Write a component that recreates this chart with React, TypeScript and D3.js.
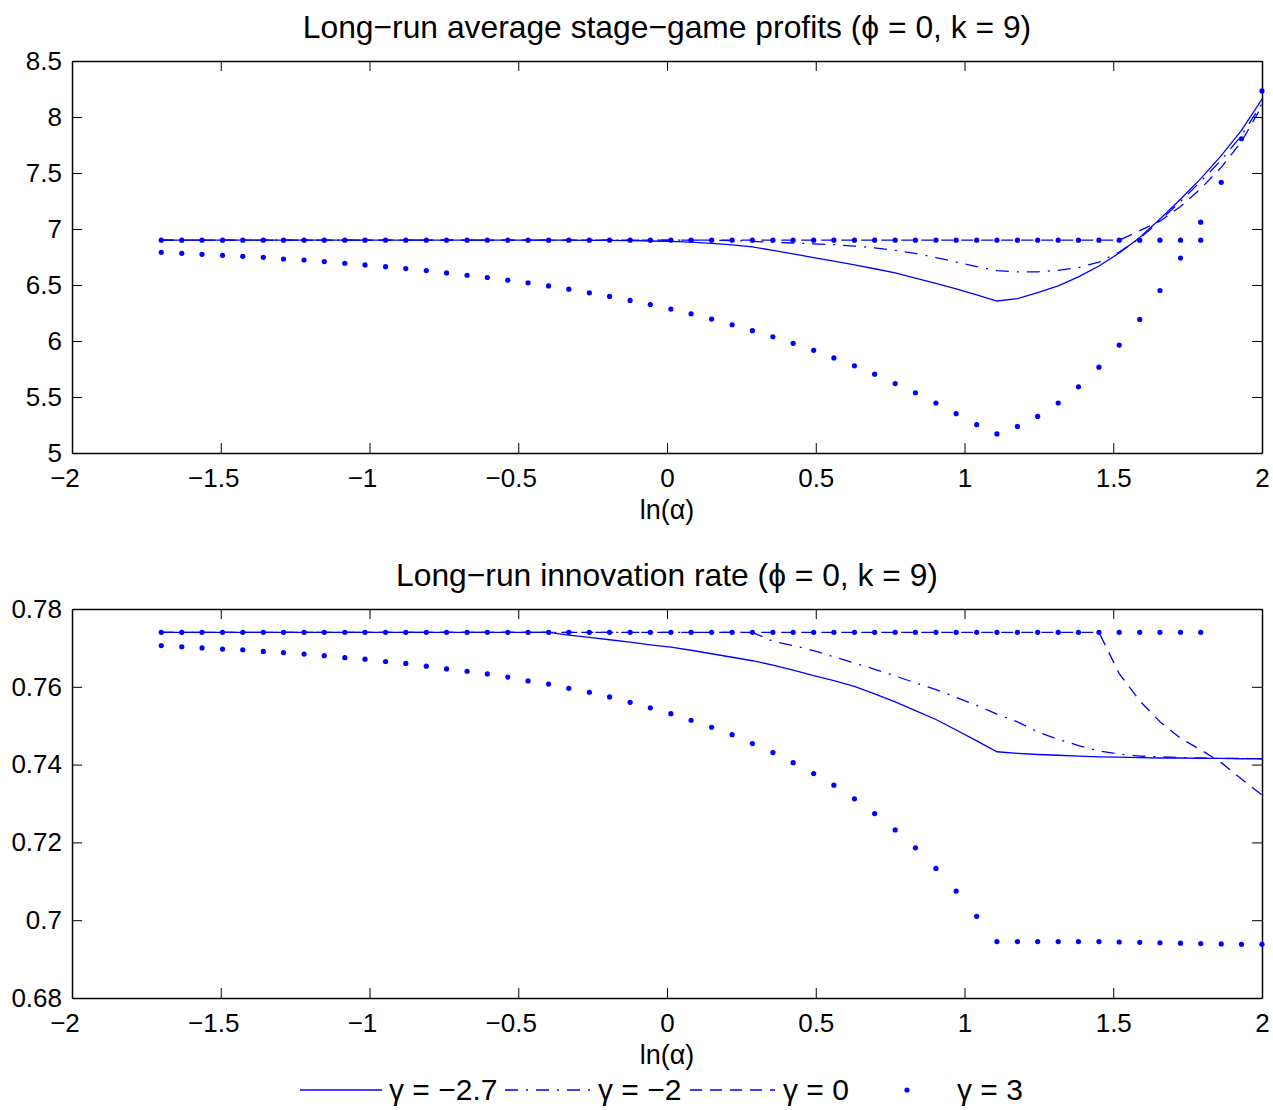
import { useEffect, useRef } from "react";
import * as d3 from "d3";

// ln(alpha) grid shared by all series
const lnAlpha = [
  -1.700, -1.631, -1.563, -1.494, -1.426, -1.357, -1.289, -1.220, -1.152, -1.083,
  -1.015, -0.946, -0.878, -0.809, -0.741, -0.672, -0.604, -0.535, -0.467, -0.398,
  -0.330, -0.261, -0.193, -0.124, -0.056, 0.013, 0.081, 0.150, 0.219, 0.287,
  0.356, 0.424, 0.493, 0.561, 0.630, 0.698, 0.767, 0.835, 0.904, 0.972,
  1.041, 1.109, 1.178, 1.246, 1.315, 1.383, 1.452, 1.520, 1.589, 1.657,
  1.726, 1.794, 1.863, 1.931, 2.000,
];

// top panel: long-run average stage-game profits
const profitG27 = [
  6.9, 6.9, 6.9, 6.9, 6.9, 6.9, 6.9, 6.9, 6.9, 6.9,
  6.9, 6.9, 6.9, 6.9, 6.9, 6.9, 6.9, 6.9, 6.9, 6.9,
  6.9, 6.899, 6.898, 6.896, 6.893, 6.889, 6.882, 6.872, 6.858, 6.840,
  6.810, 6.778, 6.745, 6.713, 6.680, 6.645, 6.608, 6.562, 6.515, 6.466,
  6.412, 6.357, 6.378, 6.433, 6.492, 6.572, 6.670, 6.785, 6.925, 7.090,
  7.265, 7.450, 7.655, 7.880, 8.160,
];
const profitG2 = [
  6.9, 6.9, 6.9, 6.9, 6.9, 6.9, 6.9, 6.9, 6.9, 6.9,
  6.9, 6.9, 6.9, 6.9, 6.9, 6.9, 6.9, 6.9, 6.9, 6.9,
  6.9, 6.9, 6.9, 6.9, 6.9, 6.9, 6.9, 6.9, 6.897, 6.890,
  6.882, 6.875, 6.868, 6.860, 6.848, 6.832, 6.810, 6.782, 6.745, 6.705,
  6.665, 6.628, 6.617, 6.618, 6.630, 6.655, 6.705, 6.795, 6.915, 7.075,
  7.245, 7.425, 7.615, 7.835, 8.120,
];
const profitG0 = [
  6.9, 6.9, 6.9, 6.9, 6.9, 6.9, 6.9, 6.9, 6.9, 6.9,
  6.9, 6.9, 6.9, 6.9, 6.9, 6.9, 6.9, 6.9, 6.9, 6.9,
  6.9, 6.9, 6.9, 6.9, 6.9, 6.9, 6.9, 6.9, 6.9, 6.9,
  6.9, 6.9, 6.9, 6.9, 6.9, 6.9, 6.9, 6.9, 6.9, 6.9,
  6.9, 6.9, 6.9, 6.9, 6.9, 6.9, 6.9, 6.9, 6.985, 7.070,
  7.200, 7.360, 7.550, 7.780, 8.100,
];
const profitG3 = [
  6.792, 6.783, 6.774, 6.765, 6.756, 6.747, 6.732, 6.723, 6.709, 6.694,
  6.679, 6.664, 6.647, 6.629, 6.608, 6.587, 6.567, 6.543, 6.519, 6.492,
  6.463, 6.430, 6.398, 6.362, 6.326, 6.285, 6.243, 6.196, 6.145, 6.092,
  6.038, 5.979, 5.917, 5.849, 5.778, 5.704, 5.620, 5.538, 5.446, 5.351,
  5.253, 5.170, 5.237, 5.327, 5.446, 5.591, 5.766, 5.964, 6.193, 6.451,
  6.741, 7.061, 7.417, 7.806, 8.233,
];
// second dotted row (first 52 grid points)
const profitDotRow = [
  6.9, 6.9, 6.9, 6.9, 6.9, 6.9, 6.9, 6.9, 6.9, 6.9,
  6.9, 6.9, 6.9, 6.9, 6.9, 6.9, 6.9, 6.9, 6.9, 6.9,
  6.9, 6.9, 6.9, 6.9, 6.9, 6.9, 6.9, 6.9, 6.9, 6.9,
  6.9, 6.9, 6.9, 6.9, 6.9, 6.9, 6.9, 6.9, 6.9, 6.9,
  6.9, 6.9, 6.9, 6.9, 6.9, 6.9, 6.9, 6.9, 6.9, 6.9,
  6.9, 6.9,
];

// bottom panel: long-run innovation rate
const innovG27 = [
  0.774, 0.774, 0.774, 0.774, 0.774, 0.774, 0.774, 0.774, 0.774, 0.774,
  0.774, 0.774, 0.774, 0.774, 0.774, 0.774, 0.774, 0.774, 0.774, 0.774,
  0.7733, 0.7727, 0.7721, 0.7715, 0.7708, 0.7702, 0.7694, 0.7685, 0.7676, 0.7667,
  0.7656, 0.7643, 0.7629, 0.7616, 0.7601, 0.7582, 0.7561, 0.7539, 0.7516, 0.7489,
  0.7461, 0.7433, 0.7429, 0.7426, 0.7424, 0.7422, 0.7420, 0.7419, 0.7418, 0.7417,
  0.7417, 0.7416, 0.7416, 0.7415, 0.7415,
];
const innovG2 = [
  0.774, 0.774, 0.774, 0.774, 0.774, 0.774, 0.774, 0.774, 0.774, 0.774,
  0.774, 0.774, 0.774, 0.774, 0.774, 0.774, 0.774, 0.774, 0.774, 0.774,
  0.774, 0.774, 0.774, 0.774, 0.774, 0.774, 0.774, 0.774, 0.774, 0.774,
  0.7717, 0.7706, 0.7693, 0.7677, 0.7661, 0.7645, 0.7628, 0.7610, 0.7593, 0.7573,
  0.7552, 0.7530, 0.7510, 0.7484, 0.7465, 0.7449, 0.7435, 0.7427, 0.7422, 0.7420,
  0.7418, 0.7417, 0.7416, 0.7416, 0.7415,
];
const innovG0 = [
  0.774, 0.774, 0.774, 0.774, 0.774, 0.774, 0.774, 0.774, 0.774, 0.774,
  0.774, 0.774, 0.774, 0.774, 0.774, 0.774, 0.774, 0.774, 0.774, 0.774,
  0.774, 0.774, 0.774, 0.774, 0.774, 0.774, 0.774, 0.774, 0.774, 0.774,
  0.774, 0.774, 0.774, 0.774, 0.774, 0.774, 0.774, 0.774, 0.774, 0.774,
  0.774, 0.774, 0.774, 0.774, 0.774, 0.774, 0.774, 0.7634, 0.7564, 0.7510,
  0.7468, 0.7438, 0.7405, 0.7363, 0.7322,
];
const innovG3 = [
  0.7706, 0.7703, 0.7700, 0.7697, 0.7695, 0.7691, 0.7688, 0.7684, 0.7680, 0.7675,
  0.7671, 0.7665, 0.7660, 0.7653, 0.7646, 0.7640, 0.7633, 0.7625, 0.7615, 0.7607,
  0.7596, 0.7586, 0.7574, 0.7560, 0.7546, 0.7531, 0.7514, 0.7496, 0.7477, 0.7454,
  0.7431, 0.7405, 0.7377, 0.7347, 0.7312, 0.7274, 0.7232, 0.7186, 0.7133, 0.7075,
  0.7010, 0.6945, 0.6945, 0.6945, 0.6945, 0.6945, 0.6945, 0.6944, 0.6943, 0.6942,
  0.6941, 0.6940, 0.6939, 0.6938, 0.6938,
];
const innovDotRow = [
  0.774, 0.774, 0.774, 0.774, 0.774, 0.774, 0.774, 0.774, 0.774, 0.774,
  0.774, 0.774, 0.774, 0.774, 0.774, 0.774, 0.774, 0.774, 0.774, 0.774,
  0.774, 0.774, 0.774, 0.774, 0.774, 0.774, 0.774, 0.774, 0.774, 0.774,
  0.774, 0.774, 0.774, 0.774, 0.774, 0.774, 0.774, 0.774, 0.774, 0.774,
  0.774, 0.774, 0.774, 0.774, 0.774, 0.774, 0.774, 0.774, 0.774, 0.774,
  0.774, 0.774,
];

const xTicks = [-2, -1.5, -1, -0.5, 0, 0.5, 1, 1.5, 2];
const profitTicks = [5, 5.5, 6, 6.5, 7, 7.5, 8, 8.5];
const innovTicks = [0.68, 0.7, 0.72, 0.74, 0.76, 0.78];
const legendLabels = ["γ = −2.7", "γ = −2", "γ = 0", "γ = 3"];

const blue = "#0000ff";
const font = "'Liberation Sans', Arial, Helvetica, sans-serif";
const dashDot = "13,8,2,8";
const dashed = "12,8";

type Style = "solid" | "dashdot" | "dashed" | "dots";
type Series = { ys: number[]; style: Style };

const fmtNum = (d: number) => (d < 0 ? "−" + String(Math.abs(d)) : String(d));
const dashFor = (s: string) => (s === "dashdot" ? dashDot : s === "dashed" ? dashed : null);

function drawPanel(
  svg: d3.Selection<SVGSVGElement, unknown, null, undefined>,
  top: number,
  bottom: number,
  yDomain: [number, number],
  yTicks: number[],
  title: string,
  series: Series[]
) {
  const left = 72;
  const right = 1262;
  const x = d3.scaleLinear().domain([-2, 2]).range([left, right]);
  const y = d3.scaleLinear().domain(yDomain).range([bottom, top]);
  const g = svg.append("g");

  const styleAxis = (a: d3.Selection<SVGGElement, unknown, null, undefined>) => {
    a.attr("font-size", 26).attr("font-family", font);
    a.selectAll(".domain").attr("stroke", "#000").attr("stroke-width", 1.5);
    a.selectAll(".tick line").attr("stroke", "#000").attr("stroke-width", 1);
  };

  const xAxis = g.append("g").attr("transform", `translate(0,${bottom})`)
    .call(d3.axisBottom(x).tickValues(xTicks).tickSizeInner(-10).tickSizeOuter(0)
      .tickPadding(16).tickFormat(d => fmtNum(+d)))
    .call(styleAxis);
  // minus sign hangs to the left of the centred number
  xAxis.selectAll<SVGTextElement, number>(".tick text").attr("dx", d => (d < 0 ? -7.5 : 0));

  g.append("g").attr("transform", `translate(0,${top})`)
    .call(d3.axisTop(x).tickValues(xTicks).tickSizeInner(-10).tickSizeOuter(0).tickFormat(() => ""))
    .call(styleAxis);
  g.append("g").attr("transform", `translate(${left},0)`)
    .call(d3.axisLeft(y).tickValues(yTicks).tickSizeInner(-10).tickSizeOuter(0)
      .tickPadding(10).tickFormat(d => String(+(+d).toFixed(2))))
    .call(styleAxis);
  g.append("g").attr("transform", `translate(${right},0)`)
    .call(d3.axisRight(y).tickValues(yTicks).tickSizeInner(-10).tickSizeOuter(0).tickFormat(() => ""))
    .call(styleAxis);

  g.append("text")
    .attr("x", (left + right) / 2).attr("y", top - 23)
    .attr("text-anchor", "middle").attr("font-family", font).attr("font-size", 31.8)
    .text(title);
  g.append("text")
    .attr("x", (left + right) / 2).attr("y", bottom + 66)
    .attr("text-anchor", "middle").attr("font-family", font).attr("font-size", 27)
    .text("ln(α)");

  const line = d3.line<number>().x((_, i) => x(lnAlpha[i])).y(d => y(d));
  series.forEach(s => {
    if (s.style === "dots") {
      g.append("g").selectAll("circle").data(s.ys).enter().append("circle")
        .attr("cx", (_, i) => x(lnAlpha[i])).attr("cy", d => y(d))
        .attr("r", 2.6).attr("fill", blue);
    } else {
      g.append("path").datum(s.ys)
        .attr("d", line)
        .attr("fill", "none").attr("stroke", blue).attr("stroke-width", 1.3)
        .attr("stroke-dasharray", dashFor(s.style));
    }
  });
}

export default function App() {
  const svgRef = useRef<SVGSVGElement | null>(null);

  useEffect(() => {
    const svg = d3.select(svgRef.current as SVGSVGElement);
    svg.selectAll("*").remove();

    drawPanel(svg, 61, 453, [5, 8.5], profitTicks,
      "Long−run average stage−game profits (ϕ = 0, k = 9)",
      [
        { ys: profitG27, style: "solid" },
        { ys: profitG2, style: "dashdot" },
        { ys: profitG0, style: "dashed" },
        { ys: profitG3, style: "dots" },
        { ys: profitDotRow, style: "dots" },
      ]);
    drawPanel(svg, 609, 998, [0.68, 0.78], innovTicks,
      "Long−run innovation rate (ϕ = 0, k = 9)",
      [
        { ys: innovG27, style: "solid" },
        { ys: innovG2, style: "dashdot" },
        { ys: innovG0, style: "dashed" },
        { ys: innovG3, style: "dots" },
        { ys: innovDotRow, style: "dots" },
      ]);

    // legend
    const ly = 1090;
    const items = [
      { x0: 300, x1: 382, tx: 389, style: "solid" },
      { x0: 505, x1: 592, tx: 598, style: "dashdot" },
      { x0: 690, x1: 775, tx: 783, style: "dashed" },
      { x0: 870, x1: 945, tx: 957, style: "dots" },
    ];
    const lg = svg.append("g");
    items.forEach((it, i) => {
      if (it.style === "dots") {
        lg.append("circle").attr("cx", (it.x0 + it.x1) / 2 - 0.5).attr("cy", ly).attr("r", 2.6).attr("fill", blue);
      } else {
        lg.append("line").attr("x1", it.x0).attr("x2", it.x1).attr("y1", ly).attr("y2", ly)
          .attr("stroke", blue).attr("stroke-width", 1.3)
          .attr("stroke-dasharray", dashFor(it.style));
      }
      lg.append("text").attr("x", it.tx).attr("y", ly + 10)
        .attr("font-family", font).attr("font-size", 30)
        .text(legendLabels[i]);
    });
  }, []);

  return (
    <svg ref={svgRef} width={1273} height={1110}
      style={{ position: "absolute", left: 0, top: 0, background: "#fff" }} />
  );
}
